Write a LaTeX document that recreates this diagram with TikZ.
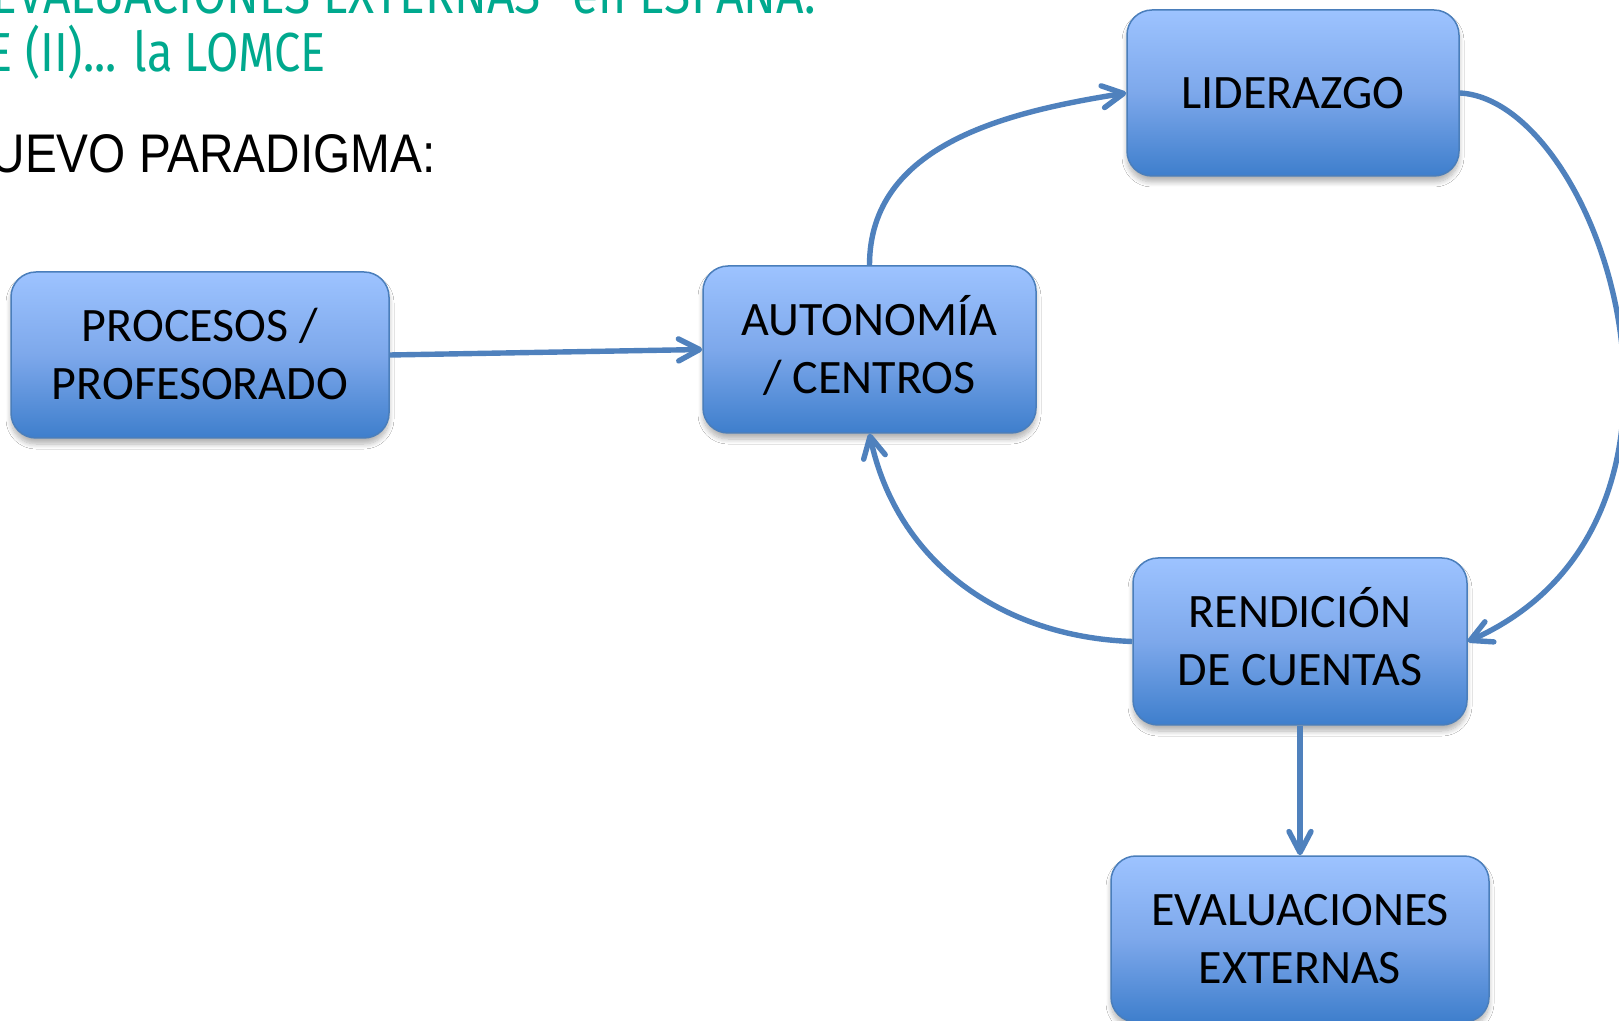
\documentclass[tikz,border=0pt]{standalone}
\usepackage{fontspec}
\usepackage{graphicx}
\setmainfont{Carlito}
\newfontfamily\titlefont{Fira Sans}
\newfontfamily\arialfont{Liberation Sans}
\usetikzlibrary{arrows.meta,shadows.blur}
\definecolor{lineblue}{RGB}{79,129,189}
\definecolor{edgeblue}{RGB}{74,126,187}
\definecolor{topblue}{RGB}{157,195,255}
\definecolor{midblue}{RGB}{125,168,235}
\definecolor{botblue}{RGB}{62,126,204}
\definecolor{titlegreen}{RGB}{0,169,142}
\newcommand{\bxl}[1]{\rule{0pt}{15.5pt}\smash{#1}}
\begin{document}
\begin{tikzpicture}[x=0.5pt,y=-0.5pt,
  box/.style={draw=edgeblue, line width=0.75pt, rounded corners=12.5pt,
    top color=topblue, bottom color=botblue, middle color=midblue,
    inner sep=0pt, align=center, font=\fontsize{24}{29}\selectfont,
    blur shadow={shadow xshift=0pt, shadow yshift=-3pt, shadow blur radius=2.5pt, shadow blur steps=8, shadow opacity=30}},
  conn/.style={draw=lineblue, line width=2.7pt,
    -{Straight Barb[length=10.5pt,width=11pt,line width=2.7pt,round]}},
  ttl/.style={anchor=base east, inner sep=0pt}]
\useasboundingbox (0,0) rectangle (1619,1021);
\clip (0,0) rectangle (1619,1021);
\fill[white] (0,0) rectangle (1619,1021);

\node[ttl, text=titlegreen, font=\titlefont\fontsize{27.5}{30}\selectfont] (t1) at (816,14)
  {\resizebox{412pt}{\height}{EVALUACIONES EXTERNAS” en ESPAÑA:}};
\node[ttl, text=titlegreen, font=\titlefont\fontsize{27.5}{30}\selectfont] (t2) at (326,72)
  {\resizebox{169pt}{\height}{E (II)... la LOMCE}};
\node[ttl, text=black, font=\arialfont\fontsize{27.2}{30}\selectfont] (t3) at (436,173)
  {\resizebox{222.5pt}{\height}{UEVO PARADIGMA:}};

\node[box, minimum width=189pt, minimum height=83pt] (p) at (200,355)
  {\bxl{PROCESOS /}\\\bxl{PROFESORADO}};
\node[box, minimum width=166.5pt, minimum height=83.5pt] (a) at (869.5,349.5)
  {\bxl{AUTONOMÍA}\\\bxl{/ CENTROS}};
\node[box, minimum width=166pt, minimum height=83pt] (l) at (1293,93)
  {\bxl{LIDERAZGO}};
\node[box, minimum width=167pt, minimum height=83.5pt] (r) at (1300,641.5)
  {\bxl{RENDICIÓN}\\\bxl{DE CUENTAS}};
\node[box, minimum width=189pt, minimum height=83pt] (e) at (1300,939)
  {\bxl{EVALUACIONES}\\\bxl{EXTERNAS}};

\draw[conn] (p.east) -- (a.west);
\draw[conn] (a.north) to[out=90,in=189] (l.west);
\draw[conn] (l.east) .. controls (1600,100) and (1740,520) .. (r.east);
\draw[conn] (r.west) to[out=178,in=-78] (a.south);
\draw[conn] (r.south) -- (e.north);
\end{tikzpicture}
\end{document}
